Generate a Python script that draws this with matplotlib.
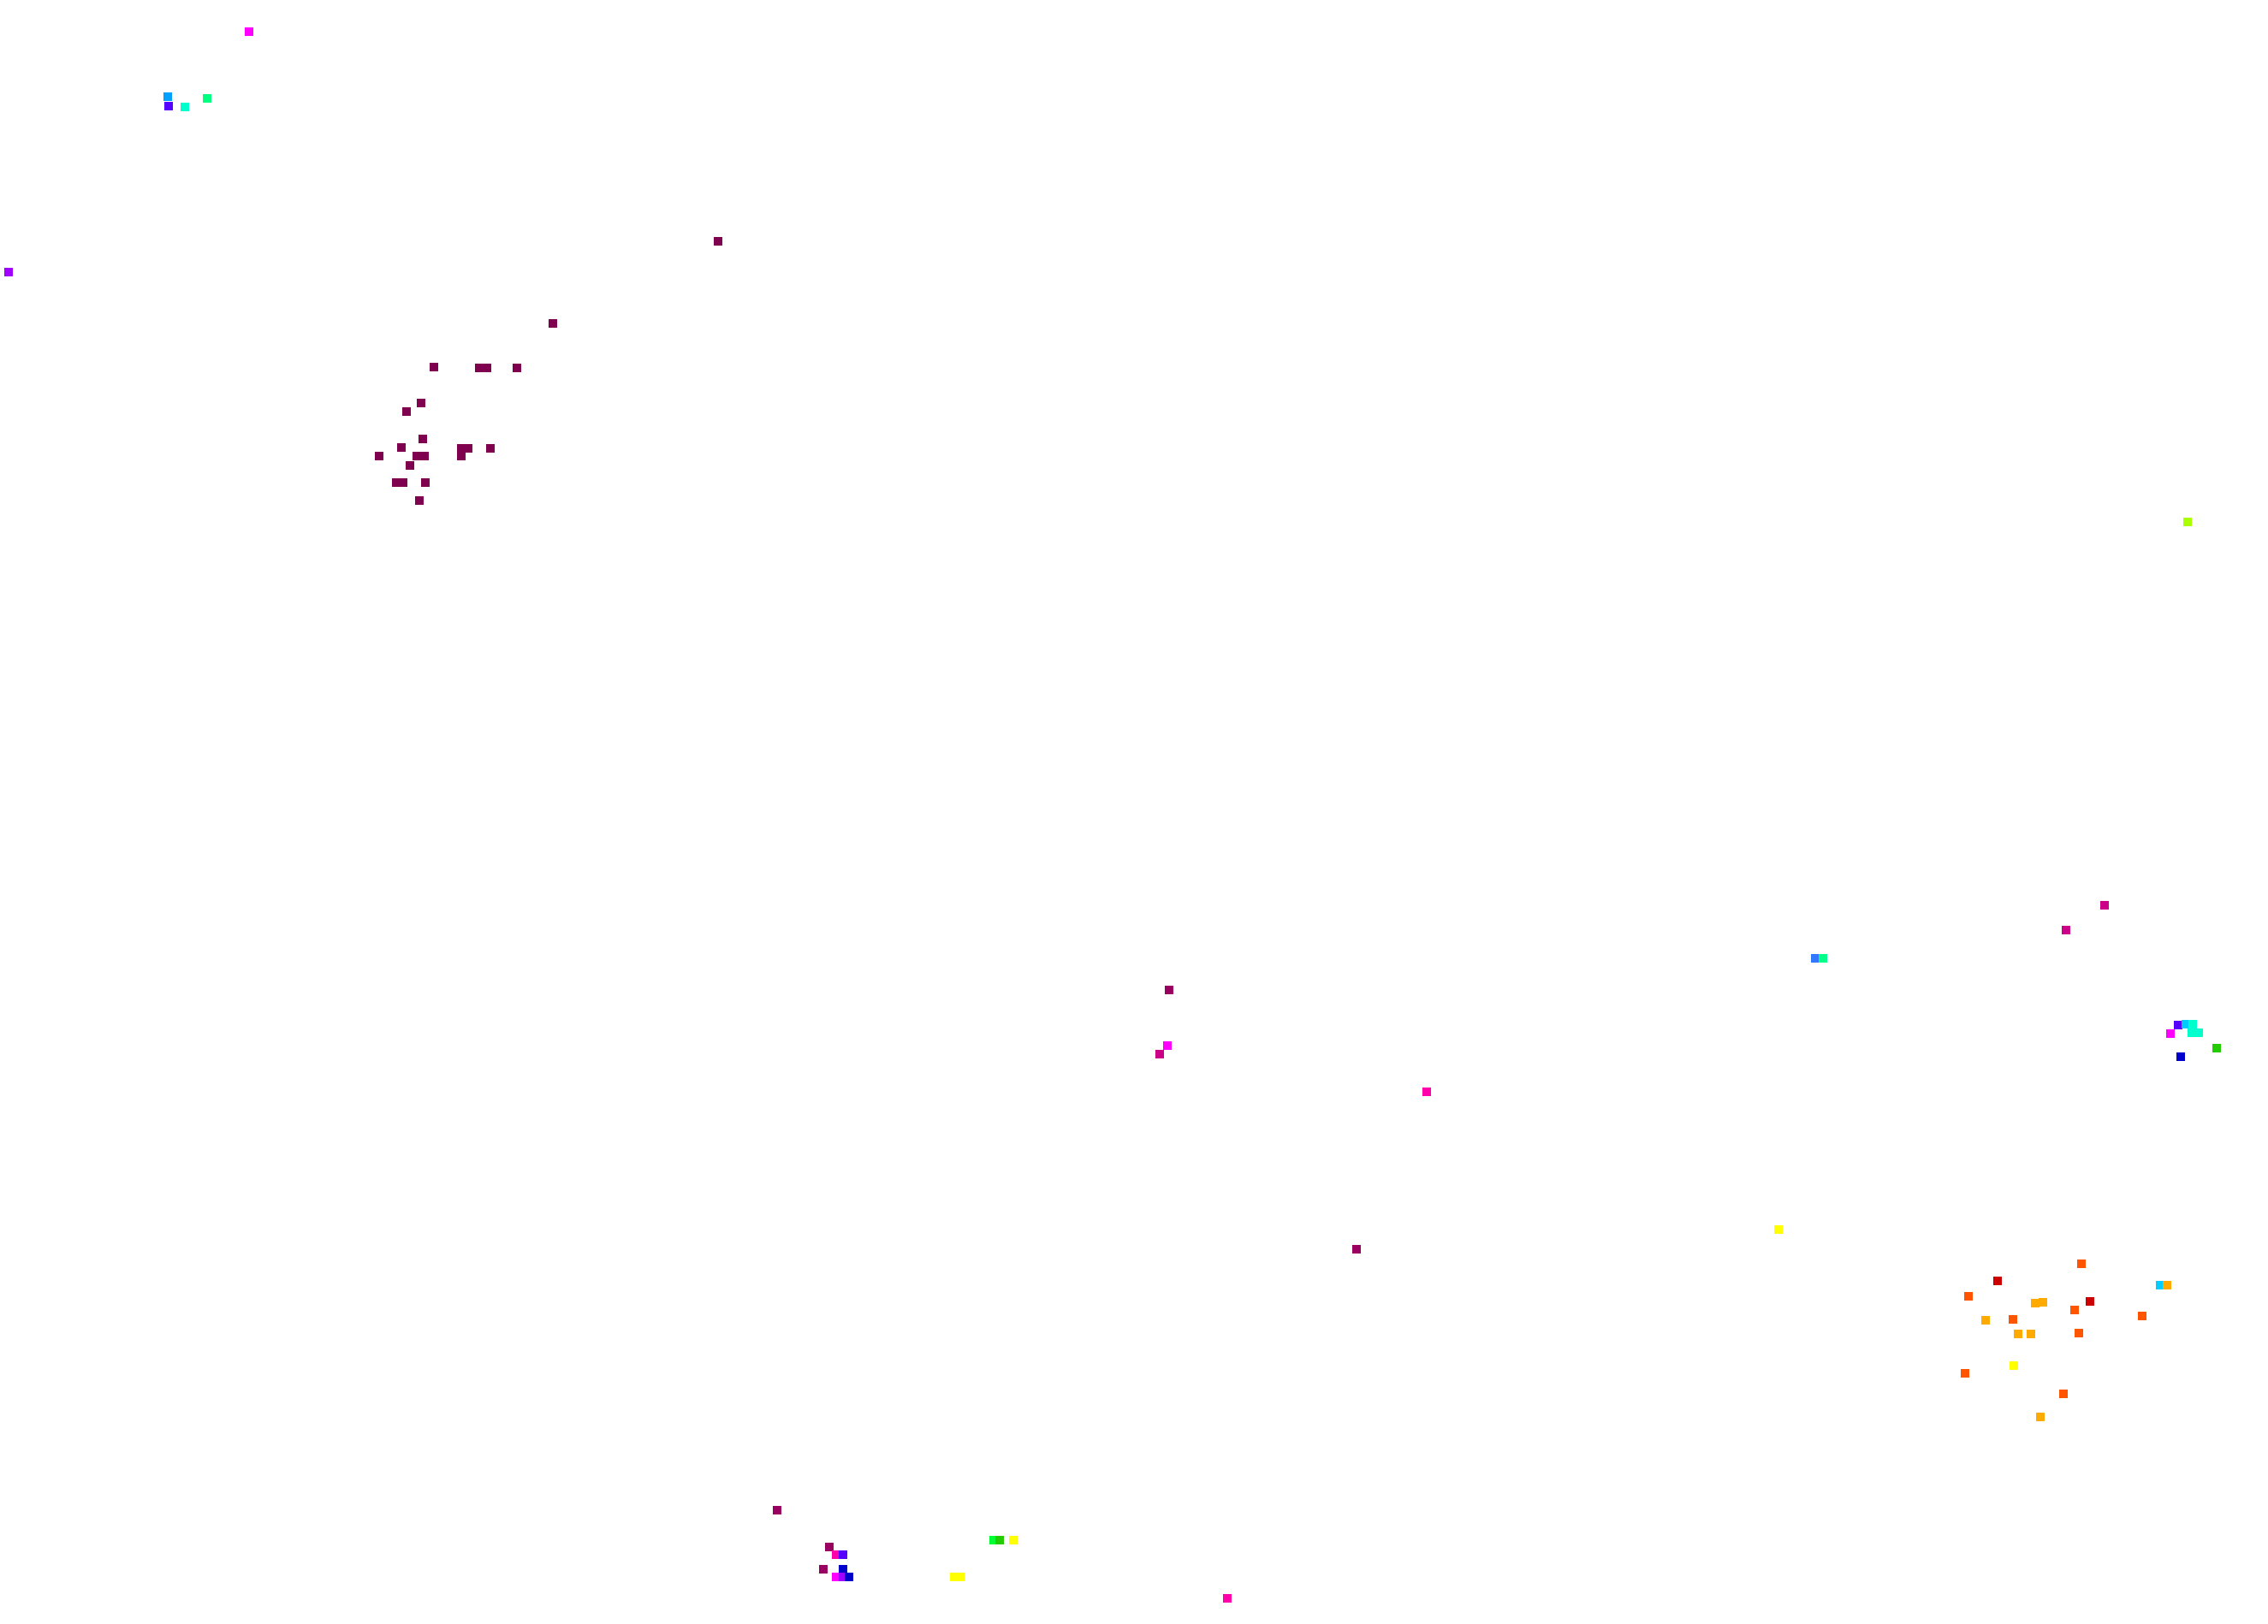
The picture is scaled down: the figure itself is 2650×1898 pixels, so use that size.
import matplotlib
matplotlib.use("Agg")
import matplotlib.pyplot as plt

# Point positions (embedding coordinates)
x = [291, 196, 197, 216, 242, 10, 839,
     646, 507, 560, 569, 604, 492, 475, 494, 469, 539, 547, 573, 443, 487, 496,
     539, 479, 463, 471, 497, 490,
     1366, 1364, 1355, 1667, 1585, 2121, 2130, 2078, 2459, 2414, 2556,
     2545, 2554, 2562, 2561, 2569, 2536, 2590, 2548,
     2432, 2334, 2524, 2532, 2300, 2378, 2387, 2442, 2424, 2320, 2352, 2503,
     2358, 2373, 2429, 2353, 2296, 2411, 2384,
     908, 1161, 1168, 1184, 969, 977, 985, 962, 985, 977, 985, 992, 1115, 1122, 1434]
y = [38, 114, 125, 126, 116, 319, 283,
     379, 430, 431, 431, 431, 472, 482, 514, 524, 525, 525, 525, 534, 534, 534,
     534, 545, 565, 565, 565, 586,
     1158, 1223, 1233, 1277, 1461, 1121, 1121, 1438, 1059, 1088, 611,
     1199, 1198, 1198, 1208, 1208, 1209, 1226, 1236,
     1478, 1498, 1503, 1503, 1516, 1524, 1523, 1522, 1532, 1544, 1543, 1539,
     1560, 1560, 1559, 1597, 1606, 1630, 1657,
     1766, 1801, 1801, 1801, 1809, 1818, 1818, 1835, 1835, 1844, 1844, 1844, 1844, 1844, 1869]
labels = ["magenta", "azure", "violet", "aqua", "spring", "purple", "plum",
          "plum", "plum", "plum", "plum", "plum", "plum", "plum", "plum", "plum", "plum", "plum", "plum", "plum", "plum", "plum",
          "plum", "plum", "plum", "plum", "plum", "plum",
          "wine", "magenta", "berry", "pink", "wine", "royal", "spring2", "yellow", "berry", "berry", "lime",
          "violet", "sky", "aqua", "aqua", "aqua", "magenta", "green", "navy",
          "orange", "red", "sky", "amber", "orange", "amber", "amber", "red", "orange", "amber", "orange", "orange",
          "amber", "amber", "orange", "yellow", "orange", "orange", "amber",
          "wine", "mint", "green", "yellow", "wine", "pink", "violet", "wine", "navy", "magenta", "purple", "navy", "yellow", "yellow", "pink"]

palette = {
    "plum": "#7f004f", "wine": "#990060", "berry": "#cc0088", "pink": "#ff00aa",
    "magenta": "#ff00ff", "purple": "#a000ff", "violet": "#5500ff", "navy": "#0000cc",
    "royal": "#3377ff", "azure": "#00a0ff", "sky": "#00ccff", "aqua": "#00ffcc",
    "spring": "#00ff80", "spring2": "#00ff88", "mint": "#00ff33", "green": "#22cc00",
    "lime": "#aaff00", "yellow": "#ffff00", "amber": "#ffaa00", "orange": "#ff5500",
    "red": "#cc0000",
}
colors = [palette[c] for c in labels]

fig = plt.figure(figsize=(26.5, 18.99), dpi=100)
ax = fig.add_axes([0, 0, 1, 1])
ax.scatter(x, y, c=colors, marker="s", s=46, linewidths=0)
ax.set_xlim(0, 2650)
ax.set_ylim(1899, 0)
ax.axis("off")

fig.savefig("out.png", dpi=100, facecolor="white")
plt.close(fig)
